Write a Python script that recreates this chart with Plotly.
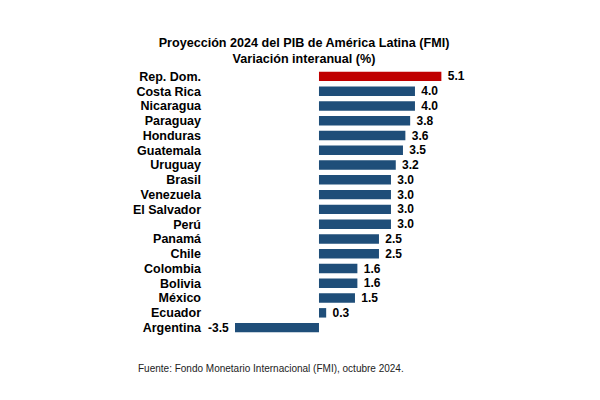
import plotly.graph_objects as go

paises = ['Rep. Dom.', 'Costa Rica', 'Nicaragua', 'Paraguay', 'Honduras', 'Guatemala',
          'Uruguay', 'Brasil', 'Venezuela', 'El Salvador', 'Perú', 'Panamá', 'Chile',
          'Colombia', 'Bolivia', 'México', 'Ecuador', 'Argentina']
variacion = [5.1, 4.0, 4.0, 3.8, 3.6, 3.5, 3.2, 3.0, 3.0, 3.0, 3.0, 2.5, 2.5, 1.6, 1.6, 1.5, 0.3, -3.5]
etiquetas = [f' {v:.1f}' if v >= 0 else f'{v:.1f} ' for v in variacion]

AZUL = '#1F4E79'
ROJO = '#C00000'
colores = [ROJO if p == 'Rep. Dom.' else AZUL for p in paises]

# la pagina tiene 8px de margen en el body, por eso 592x392
W, H = 592, 392
L, R, T, B = 197, 120, 61, 65

fig = go.Figure(go.Bar(
    x=variacion, y=paises, orientation='h',
    marker=dict(color=colores, line=dict(width=0)),
    text=etiquetas, textposition='outside', cliponaxis=False, constraintext='none',
    textfont=dict(family='Liberation Sans', size=12, color='black', weight='bold'),
    width=0.64,
))

fig.update_layout(
    width=W, height=H,
    margin=dict(l=L, r=R, t=T, b=B),
    paper_bgcolor='white', plot_bgcolor='white',
    font=dict(family='Liberation Sans', color='black'),
    showlegend=False,
    title=dict(
        text='<b>Proyección 2024 del PIB de América Latina (FMI)<br>Variación interanual (%)</b>',
        x=0.5, xanchor='center', y=1 - 39 / H, yanchor='middle',
        font=dict(size=12.6, color='black'),
    ),
    annotations=[dict(
        text='Fuente: Fondo Monetario Internacional (FMI), octubre 2024.',
        x=(128 - L) / (W - L - R), y=(H - B - 360) / (H - T - B),
        xref='paper', yref='paper', showarrow=False,
        font=dict(size=10, color='#222222'), xanchor='left', yanchor='middle',
    )],
)

fig.update_xaxes(range=[-4.75, 6.71], visible=False)
fig.update_yaxes(
    autorange=False, range=[len(paises) - 0.5, -0.5],
    tickmode='array', tickvals=paises, ticktext=paises,
    showgrid=False, zeroline=False, showline=False, ticks='',
    tickfont=dict(size=12.5, color='black', weight='bold'),
    ticklabelstandoff=3,
)

fig.write_html('out.html')
